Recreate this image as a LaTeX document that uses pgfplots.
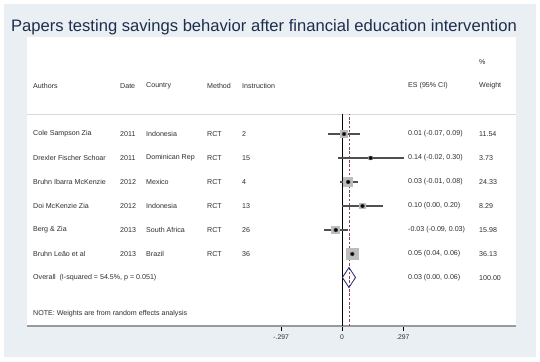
\documentclass[border=0pt]{standalone}
\usepackage{fontspec}
\setmainfont{Liberation Sans}
\usepackage{pgfplots}
\usepackage{pgfplotstable}
\pgfplotsset{compat=1.18}
\definecolor{slidebg}{HTML}{E9EFF2}
\definecolor{titlec}{HTML}{1F2D4E}
\definecolor{boxc}{HTML}{BDBDBD}
\definecolor{cic}{HTML}{505050}
\definecolor{dashc}{HTML}{8A4455}
\definecolor{diamc}{HTML}{22226E}
\definecolor{axc}{HTML}{9A9A9A}
\definecolor{textc}{HTML}{2E2E2E}
\definecolor{sepc}{HTML}{DADADA}

% y = row position, es = effect size, lo/hi = 95% CI, w = % weight
\pgfplotstableread{
y   es    lo     hi    w
227 0.01  -0.07  0.09  11.54
203 0.14  -0.02  0.30  3.73
179 0.03  -0.01  0.08  24.33
155 0.10  0.00   0.20  8.29
131 -0.03 -0.09  0.03  15.98
107 0.05  0.04   0.06  36.13
}\studies

% overall pooled estimate (diamond): 0.034 (0.002, 0.066)
\pgfplotstableread{
x     y
0.002 83.5
0.034 93.5
0.066 83.5
0.034 73.5
0.002 83.5
}\overall

\newcommand{\tf}{\fontsize{7.1}{9}\selectfont\color{textc}}

\begin{document}
\begin{tikzpicture}[x=1pt,y=1pt]
\useasboundingbox (0,0) rectangle (540,361);
\fill[white] (0,0) rectangle (540,361);
\fill[slidebg] (4,4) rectangle (536,357);
\fill[black!7] (26,34) rectangle (517,325);
\fill[white] (27,35) rectangle (516,324);
\node[anchor=base, text=titlec, font=\fontsize{16.6}{19}\selectfont] at (264,329) {Papers testing savings behavior after financial education intervention};
\draw[sepc, line width=0.8pt] (27,247) -- (516,247);

\begin{axis}[
  at={(27pt,35pt)}, anchor=south west, scale only axis,
  width=489pt, height=289pt,
  xmin=-1.5366, xmax=0.8488, ymin=35, ymax=324,
  axis x line*=bottom, axis y line=none,
  x axis line style={axc, line width=1.6pt},
  xtick={-0.297,0,0.297}, xticklabels={-.297,0,.297},
  tick align=outside, major tick length=5pt,
  xtick style={black, line width=0.6pt},
  ticklabel style={font=\fontsize{6.8}{8}\selectfont, text=textc},
  /pgf/number format/assume math mode=true,
  clip=false,
]
\addplot[black, line width=0.8pt] coordinates {(0,35) (0,247)};
\addplot[dashc, line width=0.6pt, dash pattern=on 2.5pt off 1.8pt] coordinates {(0.034,35) (0.034,247)};
\addplot[color=boxc, only marks, mark=square*, scatter,
  mark options={draw=boxc, fill=boxc, line width=0pt},
  scatter/use mapped color={draw=boxc, fill=boxc},
  visualization depends on={0.975*sqrt(\thisrow{w}) \as \msz},
  scatter/@pre marker code/.append style={/tikz/mark size=\msz}]
  table[x=es, y=y] {\studies};
\addplot[color=cic, only marks, mark=none,
  error bars/.cd, x dir=both, x explicit, error mark=none,
  error bar style={cic, line width=1.2pt}]
  table[x=es, y=y, x error plus expr=\thisrow{hi}-\thisrow{es}, x error minus expr=\thisrow{es}-\thisrow{lo}] {\studies};
\addplot[only marks, mark=*, mark size=1.4pt, black] table[x=es, y=y] {\studies};
\addplot[diamc, line width=0.8pt] table[x=x, y=y] {\overall};
\end{axis}

\tikzset{every node/.style={inner sep=0pt}}
% header
\node[anchor=west, text=textc, font=\tf] at (479,299) {\%};
\foreach \xx/\tt in {33/Authors, 120/Date, 146/Country, 207/Method, 242/Instruction, 408/ES (95\% CI), 479/Weight}
  \node[anchor=west, font=\tf] at (\xx,275) {\tt};
% rows
\foreach \yy/\a/\d/\c/\m/\i/\e/\w in {
  227/Cole Sampson Zia/2011/Indonesia/RCT/2/{0.01 (-0.07, 0.09)}/11.54,
  203/Drexler Fischer Schoar/2011/Dominican Rep/RCT/15/{0.14 (-0.02, 0.30)}/3.73,
  179/Bruhn Ibarra McKenzie/2012/Mexico/RCT/4/{0.03 (-0.01, 0.08)}/24.33,
  155/Doi McKenzie Zia/2012/Indonesia/RCT/13/{0.10 (0.00, 0.20)}/8.29,
  131/Berg \& Zia/2013/South Africa/RCT/26/{-0.03 (-0.09, 0.03)}/15.98,
  107/Bruhn Leão et al/2013/Brazil/RCT/36/{0.05 (0.04, 0.06)}/36.13}{
  \node[anchor=west, font=\tf] at (33,\yy) {\a};
  \node[anchor=west, font=\tf] at (120,\yy) {\d};
  \node[anchor=west, font=\tf] at (146,\yy) {\c};
  \node[anchor=west, font=\tf] at (207,\yy) {\m};
  \node[anchor=west, font=\tf] at (242,\yy) {\i};
  \node[anchor=west, font=\tf] at (408,\yy) {\e};
  \node[anchor=west, font=\tf] at (479,\yy) {\w};
}
\node[anchor=west, font=\tf] at (33,83) {Overall\ \ (I-squared = 54.5\%, p = 0.051)};
\node[anchor=west, font=\tf] at (408,83) {0.03 (0.00, 0.06)};
\node[anchor=west, font=\tf] at (479,83) {100.00};
\node[anchor=west, font=\tf] at (33,47) {NOTE: Weights are from random effects analysis};
\end{tikzpicture}
\end{document}
